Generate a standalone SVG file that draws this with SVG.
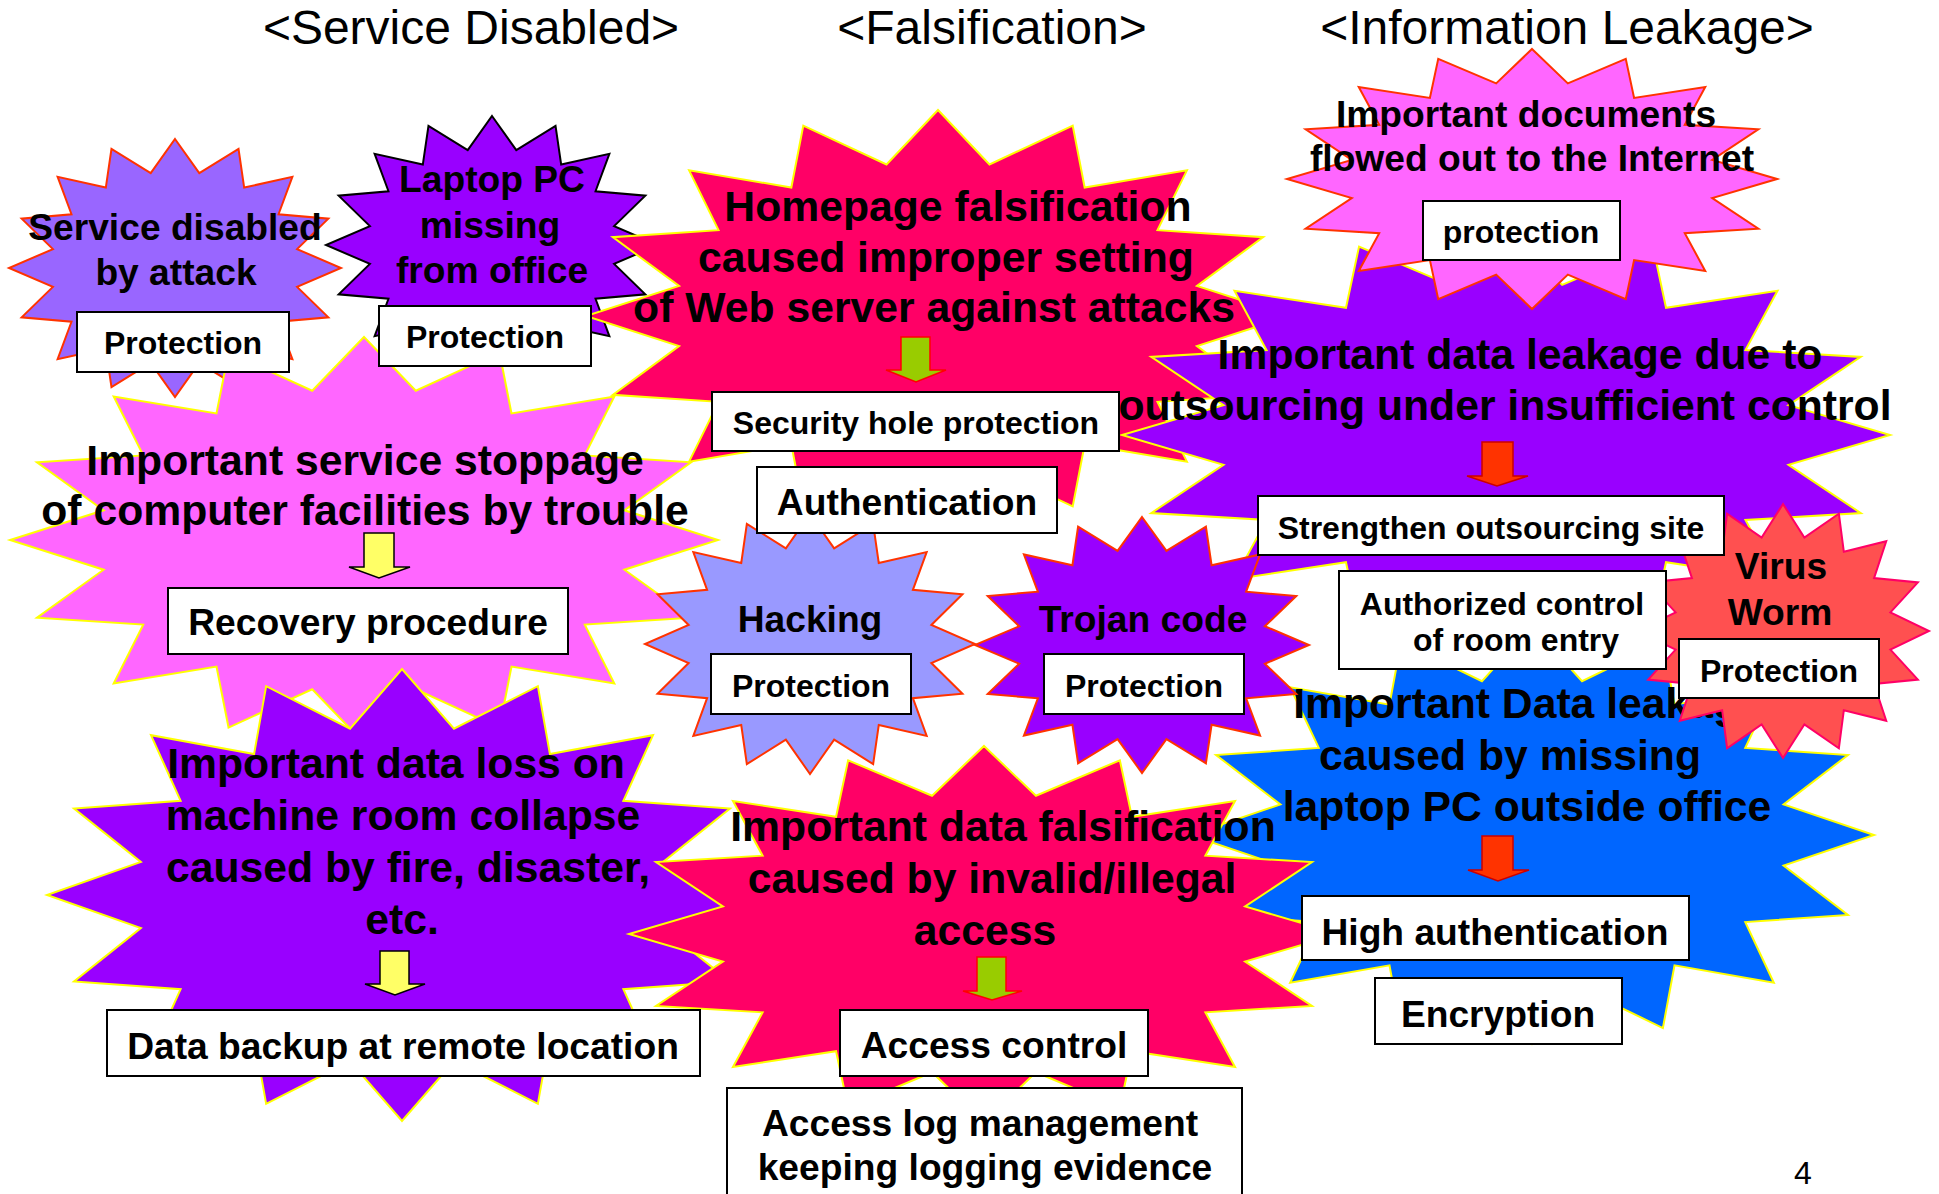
<svg xmlns="http://www.w3.org/2000/svg" xmlns:xlink="http://www.w3.org/1999/xlink" width="1939" height="1194" viewBox="0 0 1939 1194">
<style>
.t{font-family:"Liberation Sans",Arial,sans-serif;font-weight:bold;fill:#000;text-anchor:middle}
.f42{font-size:42.7px}.f37{font-size:37.2px}.f32{font-size:32px}
.title{font-family:"Liberation Sans",Arial,sans-serif;font-size:48px;fill:#000;text-anchor:middle}
.box{fill:#fff;stroke:#000;stroke-width:2}
.ay{fill:#FFFF66;stroke:#000;stroke-width:1.5}
.ag{fill:#99CC00;stroke:#FF0000;stroke-width:1.5}
.ar{fill:#FF3300;stroke:#CC0000;stroke-width:1.5}
.st{stroke-width:2}
</style>
<defs>
<polygon id="s16" vector-effect="non-scaling-stroke" points="0,-100 14.63,-73.56 38.27,-92.39 41.67,-62.36 70.71,-70.71 62.36,-41.67 92.39,-38.27 73.56,-14.63 100,0 73.56,14.63 92.39,38.27 62.36,41.67 70.71,70.71 41.67,62.36 38.27,92.39 14.63,73.56 0,100 -14.63,73.56 -38.27,92.39 -41.67,62.36 -70.71,70.71 -62.36,41.67 -92.39,38.27 -73.56,14.63 -100,0 -73.56,-14.63 -92.39,-38.27 -62.36,-41.67 -70.71,-70.71 -41.67,-62.36 -38.27,-92.39 -14.63,-73.56"/>
</defs>
<rect width="1939" height="1194" fill="#fff"/>
<g id="titles">
<text class="title" x="471" y="44">&lt;Service Disabled&gt;</text>
<text class="title" x="992" y="44">&lt;Falsification&gt;</text>
<text class="title" x="1567" y="44">&lt;Information Leakage&gt;</text>
</g>
<g id="node-service-disabled">
<use href="#s16" class="st" transform="translate(175 268) scale(1.66 1.29)" fill="#9966FF" stroke="#FF3300"/>
<text class="t f37" x="175" y="239.5">Service disabled</text>
<text class="t f37" x="176" y="284.5">by attack</text>
</g>
<g id="node-laptop-missing">
<use href="#s16" class="st" transform="translate(492 245) scale(1.66 1.29)" fill="#9900FF" stroke="#000"/>
<text class="t f37" x="492" y="192">Laptop PC</text>
<text class="t f37" x="490" y="237.5">missing</text>
<text class="t f37" x="492" y="282.5">from office</text>
</g>
<g id="node-homepage">
<use href="#s16" class="st" transform="translate(938 316) scale(3.52 2.06)" fill="#FF0066" stroke="#FFFF00"/>
<text class="t f42" x="958" y="221">Homepage falsification</text>
<text class="t f42" x="946" y="272">caused improper setting</text>
<text class="t f42" x="934" y="322">of Web server against attacks</text>
</g>
<g id="node-outsourcing">
<use href="#s16" class="st" transform="translate(1506 435) scale(3.84 2.04)" fill="#9900FF" stroke="#FFFF00"/>
<text class="t f42" x="1520" y="369">Important data leakage due to</text>
<text class="t f42" x="1505" y="420">outsourcing under insufficient control</text>
</g>
<g id="node-documents">
<use href="#s16" class="st" transform="translate(1532 179) scale(2.45 1.30)" fill="#FF66FF" stroke="#FF3300"/>
<text class="t f37" x="1526" y="127">Important documents</text>
<text class="t f37" x="1532" y="171">flowed out to the Internet</text>
</g>
<g id="node-service-stoppage">
<use href="#s16" class="st" transform="translate(364 540) scale(3.54 2.03)" fill="#FF66FF" stroke="#FFFF00"/>
<text class="t f42" x="365" y="474.5">Important service stoppage</text>
<text class="t f42" x="365" y="525">of computer facilities by trouble</text>
</g>
<g id="node-hacking">
<use href="#s16" class="st" transform="translate(810 644) scale(1.65 1.30)" fill="#9999FF" stroke="#FF3300"/>
<text class="t f37" x="810" y="632">Hacking</text>
</g>
<g id="node-data-loss">
<use href="#s16" class="st" transform="translate(402 895) scale(3.55 2.26)" fill="#9900FF" stroke="#FFFF00"/>
<text class="t f42" x="396" y="778">Important data loss on</text>
<text class="t f42" x="403" y="830">machine room collapse</text>
<text class="t f42" x="408" y="882">caused by fire, disaster,</text>
<text class="t f42" x="402" y="934">etc.</text>
</g>
<g id="node-laptop-leakage">
<use href="#s16" class="st" transform="translate(1532 835) scale(3.42 2.09)" fill="#0066FF" stroke="#FFFF00"/>
<text class="t f42" x="1528" y="718">Important Data leakage</text>
<text class="t f42" x="1510" y="770">caused by missing</text>
<text class="t f42" x="1527" y="820.5">laptop PC outside office</text>
</g>
<g id="node-trojan">
<use href="#s16" class="st" transform="translate(1142 645) scale(1.67 1.28)" fill="#9900FF" stroke="#FF3300"/>
<text class="t f37" x="1143" y="631.5">Trojan code</text>
</g>
<g id="node-data-falsification">
<use href="#s16" class="st" transform="translate(984 934) scale(3.55 1.88)" fill="#FF0066" stroke="#FFFF00"/>
<text class="t f42" x="1003" y="841">Important data falsification</text>
<text class="t f42" x="992" y="893">caused by invalid/illegal</text>
<text class="t f42" x="985" y="945">access</text>
</g>
<g id="node-virus">
<use href="#s16" class="st" transform="translate(1783 631) scale(1.46 1.27)" fill="#FF5050" stroke="#FF0066"/>
<text class="t f37" x="1781" y="578.5">Virus</text>
<text class="t f37" x="1780" y="624.5">Worm</text>
</g>
<g id="connectors">
<path class="ag" d="M901,337H930V370H946L916,382L886,370H901Z"/>
<path class="ay" d="M364,533H394V567H410L379,578L349,567H364Z"/>
<path class="ay" d="M380,951H409V984H425L395,995L365,984H380Z"/>
<path class="ag" d="M977,957H1006V991H1022L992,1000L963,991H977Z"/>
<path class="ar" d="M1482,442H1513V476H1528L1497,486L1467,476H1482Z"/>
<path class="ar" d="M1482,836H1513V870H1529L1498,881L1468,870H1482Z"/>
</g>
<g id="box-protection-a"><rect class="box" x="77" y="312" width="212" height="60"/><text class="t f32" x="183" y="354">Protection</text></g>
<g id="box-protection-b"><rect class="box" x="379" y="306" width="212" height="60"/><text class="t f32" x="485" y="348">Protection</text></g>
<g id="box-protection-d"><rect class="box" x="1423" y="201" width="197" height="59"/><text class="t f32" x="1521" y="243">protection</text></g>
<g id="box-security-hole"><rect class="box" x="712" y="392" width="407" height="59"/><text class="t f32" x="916" y="434">Security hole protection</text></g>
<g id="box-authentication"><rect class="box" x="757" y="467" width="300" height="66"/><text class="t f37" x="907" y="514.5">Authentication</text></g>
<g id="box-strengthen"><rect class="box" x="1258" y="496" width="466" height="59"/><text class="t f32" x="1491" y="539">Strengthen outsourcing site</text></g>
<g id="box-authorized"><rect class="box" x="1339" y="571" width="327" height="98"/><text class="t f32" x="1502" y="615">Authorized control</text><text class="t f32" x="1516" y="651">of room entry</text></g>
<g id="box-protection-virus"><rect class="box" x="1679" y="639" width="200" height="59"/><text class="t f32" x="1779" y="682">Protection</text></g>
<g id="box-recovery"><rect class="box" x="168" y="588" width="400" height="66"/><text class="t f37" x="368" y="635">Recovery procedure</text></g>
<g id="box-protection-hacking"><rect class="box" x="711" y="654" width="200" height="60"/><text class="t f32" x="811" y="697">Protection</text></g>
<g id="box-protection-trojan"><rect class="box" x="1044" y="654" width="200" height="60"/><text class="t f32" x="1144" y="697">Protection</text></g>
<g id="box-high-auth"><rect class="box" x="1302" y="896" width="387" height="64"/><text class="t f37" x="1495" y="944.5">High authentication</text></g>
<g id="box-encryption"><rect class="box" x="1375" y="978" width="247" height="66"/><text class="t f37" x="1498" y="1026.5">Encryption</text></g>
<g id="box-backup"><rect class="box" x="107" y="1010" width="593" height="66"/><text class="t f37" x="403" y="1058.5">Data backup at remote location</text></g>
<g id="box-access-control"><rect class="box" x="840" y="1010" width="308" height="66"/><text class="t f37" x="994" y="1057.5">Access control</text></g>
<g id="box-access-log"><rect class="box" x="727" y="1088" width="515" height="120"/><text class="t f37" x="980" y="1135.5">Access log management</text><text class="t f37" x="985" y="1179.5">keeping logging evidence</text></g>
<text x="1803" y="1184" style="font-family:'Liberation Sans',Arial,sans-serif;font-size:32px;text-anchor:middle">4</text>
</svg>
